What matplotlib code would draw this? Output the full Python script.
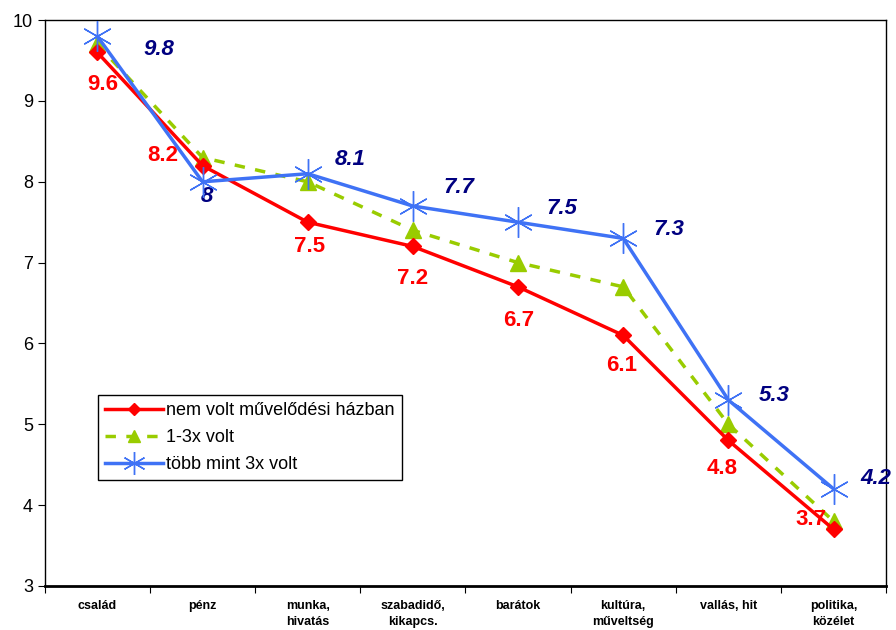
import matplotlib.pyplot as plt
import numpy as np

# kategóriák és a három sorozat
categories = ['család', 'pénz', 'munka,\nhivatás', 'szabadidő,\nkikapcs.', 'barátok',
              'kultúra,\nműveltség', 'vallás, hit', 'politika,\nközélet']
nem_volt = [9.6, 8.2, 7.5, 7.2, 6.7, 6.1, 4.8, 3.7]
egy_harom = [9.7, 8.3, 8.0, 7.4, 7.0, 6.7, 5.0, 3.8]
tobb_mint = [9.8, 8.0, 8.1, 7.7, 7.5, 7.3, 5.3, 4.2]

# címke eltolások (pixel)
red_off = [(5, -32), (-40, 10), (2, -24), (0, -32), (1, -34), (-2, -30), (-6, -28), (-23, 10)]
blue_off = [(62, -13), (4, -15), (42, 14), (46, 19), (44, 14), (46, 9), (46, 5), (42, 10)]

plt.rcParams['font.family'] = ['Liberation Sans', 'DejaVu Sans']

fig = plt.figure(figsize=(8.96, 6.3), dpi=100)
ax = fig.add_axes([0.050, 0.070, 0.939, 0.898])

x = np.arange(len(categories))

ax.plot(x, nem_volt, color='#ff0000', lw=2.5, marker='D', ms=8,
        label='nem volt művelődési házban', zorder=3)
ax.plot(x, egy_harom, color='#99cc00', lw=2.5, ls=(0, (3, 3)), marker='^', ms=11,
        label='1-3x volt', zorder=2)
ax.plot(x, tobb_mint, color='#3f72f5', lw=2.5, marker=(6, 2, 0), ms=22, mew=1,
        mec='#3f72f5', label='több mint 3x volt', zorder=4)

for i in range(len(x)):
    ax.annotate(f'{nem_volt[i]:g}', (x[i], nem_volt[i]), xytext=red_off[i],
                textcoords='offset pixels', ha='center', va='center',
                color='#ff0000', fontsize=16, fontweight='bold')
    ax.annotate(f'{tobb_mint[i]:g}', (x[i], tobb_mint[i]), xytext=blue_off[i],
                textcoords='offset pixels', ha='center', va='center',
                color='#000080', fontsize=16, fontweight='bold', fontstyle='italic',
                annotation_clip=False)

ax.set_xlim(-0.5, len(categories) - 0.5)
ax.set_ylim(3, 10)
ax.set_yticks(range(3, 11))
ax.tick_params(axis='y', labelsize=13, length=5, direction='out')
ax.set_xticks(np.arange(-0.5, len(categories), 1))
ax.set_xticklabels([])
ax.set_xticks(x, minor=True)
ax.set_xticklabels(categories, minor=True, fontsize=9, fontweight='bold',
                   linespacing=1.45,
                   family=['Liberation Sans Narrow', 'Liberation Sans'])
ax.tick_params(axis='x', which='major', length=5)
ax.tick_params(axis='x', which='minor', length=0, pad=10)

for s in ax.spines.values():
    s.set_color('black')
    s.set_linewidth(1)
ax.spines['bottom'].set_linewidth(2)

leg = ax.legend(loc='lower left', bbox_to_anchor=(0.063, 0.187), fontsize=13,
                fancybox=False, edgecolor='black', framealpha=1,
                handlelength=3.2, handletextpad=0.2, borderpad=0.4,
                labelspacing=0.55, borderaxespad=0, markerscale=0.75)
leg.get_frame().set_linewidth(1)

plt.savefig('out.png', dpi=100)
